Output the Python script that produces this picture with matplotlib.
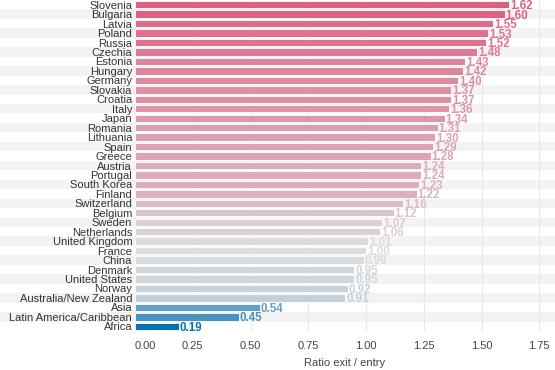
import matplotlib
matplotlib.use("Agg")
import matplotlib.pyplot as plt
import matplotlib.transforms as mtransforms
from matplotlib.colors import LinearSegmentedColormap, Normalize
from matplotlib.patches import Rectangle

plt.rcParams["font.family"] = ["Liberation Sans", "DejaVu Sans"]

countries = ["Slovenia", "Bulgaria", "Latvia", "Poland", "Russia", "Czechia", "Estonia",
             "Hungary", "Germany", "Slovakia", "Croatia", "Italy", "Japan", "Romania",
             "Lithuania", "Spain", "Greece", "Austria", "Portugal", "South Korea", "Finland",
             "Switzerland", "Belgium", "Sweden", "Netherlands", "United Kingdom", "France",
             "China", "Denmark", "United States", "Norway", "Australia/New Zealand", "Asia",
             "Latin America/Caribbean", "Africa"]
ratios = [1.62, 1.60, 1.55, 1.53, 1.52, 1.48, 1.43, 1.42, 1.40, 1.37, 1.37, 1.36, 1.34, 1.31,
          1.30, 1.29, 1.28, 1.24, 1.24, 1.23, 1.22, 1.16, 1.12, 1.07, 1.06, 1.01, 1.00, 0.99,
          0.95, 0.95, 0.92, 0.91, 0.54, 0.45, 0.19]
xticks = [0.0, 0.25, 0.5, 0.75, 1.0, 1.25, 1.5, 1.75]

# diverging colours: blue below 1, grey at 1, pink above
lo, hi = min(ratios), max(ratios)
mid = (1.0 - lo) / (hi - lo)
cmap = LinearSegmentedColormap.from_list(
    "ratio", [(0.0, "#0571b0"), (mid, "#dcdcde"), (1.0, "#dc6080")])
norm = Normalize(lo, hi)
colors = [cmap(norm(v)) for v in ratios]

fig = plt.figure(figsize=(5.55, 3.70), dpi=100)
ax = fig.add_axes([135 / 555, 39 / 370, 420 / 555, 331 / 370])

n = len(countries)
ypos = list(range(n))

# striped rows across the whole figure width
trans = mtransforms.blended_transform_factory(fig.transFigure, ax.transData)
for i in ypos:
    if i % 2 == 1:
        ax.add_patch(Rectangle((0, i - 0.5), 1, 1, transform=trans, color="#f3f3f3",
                               clip_on=False, zorder=0, linewidth=0))

ax.barh(ypos, ratios, height=0.78, color=colors, edgecolor="white", linewidth=0.6, zorder=2)

for y, v, c in zip(ypos, ratios, colors):
    ax.text(v + 0.004, y + 0.15, f"{v:.2f}", color=c, fontsize=8.3, fontweight="bold",
            ha="left", va="center", zorder=3)

ax.set_ylim(n - 0.5, -0.5)
ax.set_xlim(0, 420 / 231)
ax.set_yticks(ypos)
ax.set_yticklabels(countries, fontsize=8, color="#333333")
ax.set_xticks(xticks)
ax.set_xticklabels([f"{t:.2f}" for t in xticks], fontsize=8, color="#444444")
ax.get_xticklabels()[0].set_horizontalalignment("left")
ax.tick_params(axis="both", length=0)
ax.tick_params(axis="x", pad=7)
ax.tick_params(axis="y", pad=2)
ax.set_xlabel("Ratio exit / entry", fontsize=8, color="#444444", labelpad=5)

ax.patch.set_alpha(0)
for s in ax.spines.values():
    s.set_visible(False)
ax.grid(axis="x", color="#e8e8e8", linewidth=0.8, zorder=1)
ax.set_axisbelow(True)

fig.savefig("out.png", dpi=100)
